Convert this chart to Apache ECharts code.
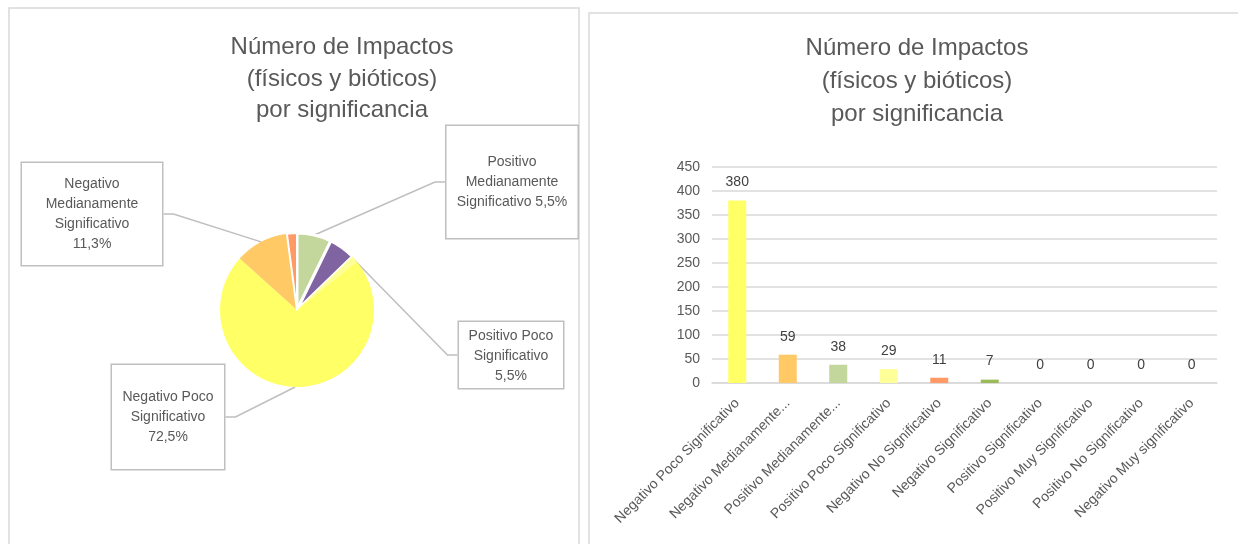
<!DOCTYPE html>
<html>
<head>
<meta charset="utf-8">
<script src="https://cdn.jsdelivr.net/npm/echarts@6/dist/echarts.min.js"></script>
<style>
html,body{margin:0;padding:0;background:#fff;}
#c{width:1238px;height:544px;}
</style>
</head>
<body>
<div id="c"></div>
<script>
// ---- Data ----
const titleText = 'Número de Impactos\n(físicos y bióticos)\npor significancia';
const categories = ['Negativo Poco Significativo','Negativo Medianamente Significativo','Positivo Medianamente Significativo','Positivo Poco Significativo','Negativo No Significativo','Negativo Significativo','Positivo Significativo','Positivo Muy Significativo','Positivo No Significativo','Negativo Muy significativo'];
const counts = [380, 59, 38, 29, 11, 7, 0, 0, 0, 0];
const xTickLabels = ['Negativo Poco Significativo','Negativo Medianamente...','Positivo Medianamente...','Positivo Poco Significativo','Negativo No Significativo','Negativo Significativo','Positivo Significativo','Positivo Muy Significativo','Positivo No Significativo','Negativo Muy significativo'];
const yTicks = [0, 50, 100, 150, 200, 250, 300, 350, 400, 450];
const barColors = ['#FFFF66','#FFC966','#C3D69B','#FFFF99','#FF9966','#9BBB59','#CCCCCC','#CCCCCC','#CCCCCC','#CCCCCC'];

// pie slices (clockwise from 12 o'clock)
const pieOrder = ['Positivo Medianamente Significativo','Positivo Poco Significativo','Negativo Significativo','Negativo Poco Significativo','Negativo Medianamente Significativo','Negativo No Significativo'];
const pieColors = ['#C3D69B','#8064A2','#FFFF99','#FFFF66','#FFC966','#FF9966'];
const pieLabelTexts = ['Positivo\nMedianamente\nSignificativo 5,5%','Positivo Poco\nSignificativo\n5,5%','','Negativo Poco\nSignificativo\n72,5%','Negativo\nMedianamente\nSignificativo\n11,3%',''];

// ---- Styles / layout (not data) ----
const FONT = 'Liberation Sans';
const labelBoxes = [
  {cx: 512, top: 126, width: 121, padding: [26,5,26,5]},
  {cx: 511, top: 322, width: 94, padding: [4,5,2,5]},
  null,
  {cx: 168, top: 365, width: 102, padding: [22,5,22,5]},
  {cx: 92, top: 163, width: 130, padding: [11,5,11,5]},
  null
];
const sliceBorders = [3, 3, 0, 0, 0, 2];

const pieData = pieOrder.map((n, i) => {
  const box = labelBoxes[i];
  return {
    name: n,
    value: counts[categories.indexOf(n)],
    itemStyle: {color: pieColors[i], borderColor: '#fff', borderWidth: sliceBorders[i]},
    label: box ? {show: true, width: box.width, padding: box.padding} : {show: false},
    labelLine: {show: !!box}
  };
});

const chart = echarts.init(document.getElementById('c'));
chart.setOption({
  animation: false,
  textStyle: {fontFamily: FONT},
  graphic: [
    {type: 'rect', shape: {x: 9, y: 8, width: 570, height: 600}, style: {fill: 'none', stroke: '#D9D9D9', lineWidth: 1.5}, silent: true},
    {type: 'rect', shape: {x: 589, y: 13, width: 700, height: 600}, style: {fill: 'none', stroke: '#D9D9D9', lineWidth: 1.5}, silent: true}
  ],
  title: [
    {text: titleText, left: 337, top: 27, textAlign: 'center',
     textStyle: {fontFamily: FONT, fontWeight: 'normal', fontSize: 24, color: '#595959', lineHeight: 31.5}},
    {text: titleText, left: 912, top: 27, textAlign: 'center',
     textStyle: {fontFamily: FONT, fontWeight: 'normal', fontSize: 24, color: '#595959', lineHeight: 33}}
  ],
  grid: {left: 712, right: 21, top: 167, bottom: 161, containLabel: false},
  xAxis: {
    type: 'category',
    data: categories,
    axisLine: {lineStyle: {color: '#D9D9D9', width: 1.5}},
    axisTick: {show: false},
    axisLabel: {
      interval: 0, rotate: 45, margin: 18, color: '#595959', fontSize: 14, fontFamily: FONT,
      formatter: (v, i) => xTickLabels[i]
    }
  },
  yAxis: {
    type: 'value', min: yTicks[0], max: yTicks[yTicks.length - 1], interval: yTicks[1] - yTicks[0],
    axisLine: {show: false}, axisTick: {show: false},
    axisLabel: {color: '#595959', fontSize: 14, margin: 12, fontFamily: FONT},
    splitLine: {lineStyle: {color: '#D9D9D9', width: 1.5}}
  },
  series: [
    {
      type: 'bar',
      data: counts.map((v, i) => ({value: v, itemStyle: {color: barColors[i]}})),
      barWidth: 18,
      label: {show: true, position: 'top', distance: 11, color: '#404040', fontSize: 14, fontFamily: FONT}
    },
    {
      type: 'pie',
      center: [297, 310],
      radius: 77,
      startAngle: 90,
      clockwise: true,
      data: pieData,
      emphasis: {disabled: true},
      label: {
        position: 'outside',
        formatter: p => pieLabelTexts[p.dataIndex],
        color: '#595959', fontSize: 14, lineHeight: 20, fontFamily: FONT,
        backgroundColor: '#fff', borderColor: '#BFBFBF', borderWidth: 1.5, align: 'center'
      },
      labelLine: {lineStyle: {color: '#BFBFBF', width: 1.5}, length: 10, length2: 10},
      labelLayout: function (params) {
        const b = labelBoxes[params.dataIndex];
        if (!b) return {};
        return {x: b.cx, y: b.top, align: 'center', verticalAlign: 'top'};
      }
    }
  ]
});
</script>
</body>
</html>
